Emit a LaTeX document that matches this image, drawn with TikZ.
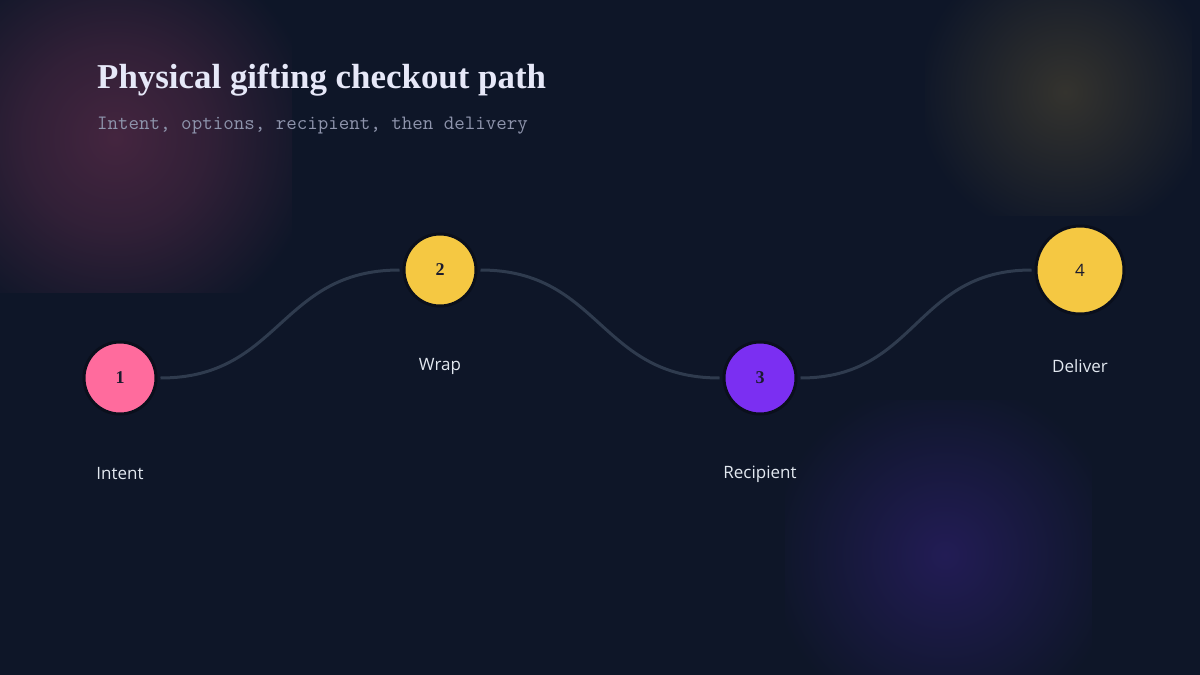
\documentclass[tikz,border=0pt]{standalone}
\usepackage{fontspec}
\setmainfont{Liberation Serif}
\newfontfamily\labelfont{Open Sans}
\usetikzlibrary{calc}
\definecolor{bg}{HTML}{0E1628}
\definecolor{glowpink}{HTML}{44253F}
\definecolor{glowyellow}{HTML}{34332E}
\definecolor{glowpurple}{HTML}{221C55}
\definecolor{titlec}{HTML}{E6E8F8}
\definecolor{subc}{HTML}{8E94AC}
\definecolor{linkc}{HTML}{2F3B4E}
\definecolor{ringc}{HTML}{0A0F1C}
\definecolor{pinkc}{HTML}{FF6B9D}
\definecolor{yellowc}{HTML}{F5C842}
\definecolor{purplec}{HTML}{7B2FF2}
\definecolor{numc}{HTML}{1B1B2E}
\definecolor{labc}{HTML}{E2E8F0}
\pgfdeclareradialshading{pinkglow}{\pgfpoint{0bp}{0bp}}{color(0bp)=(glowpink); color(9bp)=(glowpink!65!bg); color(20bp)=(bg); color(25bp)=(bg); color(50bp)=(bg)}
\pgfdeclareradialshading{yellowglow}{\pgfpoint{0bp}{0bp}}{color(0bp)=(glowyellow); color(8bp)=(glowyellow!60!bg); color(20bp)=(bg); color(25bp)=(bg); color(50bp)=(bg)}
\pgfdeclareradialshading{purpleglow}{\pgfpoint{0bp}{0bp}}{color(0bp)=(glowpurple); color(8bp)=(glowpurple!60!bg); color(20bp)=(bg); color(25bp)=(bg); color(50bp)=(bg)}
\tikzset{
  stepdot/.style={circle, draw=ringc, line width=3pt, minimum size=#1, inner sep=0pt, font=\fontsize{18}{20}\selectfont\bfseries, text=numc},
  steplabel/.style={font=\labelfont\fontsize{17}{20}\selectfont, text=labc},
  link/.style={draw=linkc, line width=3pt},
}
\begin{document}
\begin{tikzpicture}[x=1pt,y=-1pt]
\useasboundingbox (0,0) rectangle (1200,675);
\fill[bg] (0,0) rectangle (1200,675);
% glows
\begin{scope}
  \clip (0,0) rectangle (292,292);
  \shade[shading=pinkglow] (115,138) circle (255);
\end{scope}
\begin{scope}
  \clip (925,0) rectangle (1192,215);
  \shade[shading=yellowglow] (1065,92) circle (185);
\end{scope}
\begin{scope}
  \clip (785,400) rectangle (1092,675);
  \shade[shading=purpleglow] (945,555) circle (220);
\end{scope}
% titles
\node[anchor=base west, inner sep=0pt, text=titlec, font=\bfseries\fontsize{34.9}{38}\selectfont] (title) at (97,88) {Physical gifting checkout path};
\node[anchor=base west, inner sep=0pt, text=subc, font=\ttfamily\fontsize{20.4}{22}\selectfont] (sub) at (97,129) {Intent, options, recipient, then delivery};
% step circles
\node[stepdot=72pt, fill=pinkc] (c1) at (120,378) {1};
\node[stepdot=72pt, fill=yellowc] (c2) at (440,270) {2};
\node[stepdot=72pt, fill=purplec] (c3) at (760,378) {3};
\node[stepdot=88pt, fill=yellowc, font=\labelfont\fontsize{17}{20}\selectfont] (c4) at (1080,270) {4};
% links
\draw[link] ($(c1.east)+(3,0)$) .. controls ($(c1.east)+(123,0)$) and ($(c2.west)+(-123,0)$) .. ($(c2.west)+(-3,0)$);
\draw[link] ($(c2.east)+(3,0)$) .. controls ($(c2.east)+(123,0)$) and ($(c3.west)+(-123,0)$) .. ($(c3.west)+(-3,0)$);
\draw[link] ($(c3.east)+(3,0)$) .. controls ($(c3.east)+(120,0)$) and ($(c4.west)+(-120,0)$) .. ($(c4.west)+(-3,0)$);
% labels
\node[steplabel] (l1) at (120,474) {Intent};
\node[steplabel] (l2) at (440,366) {Wrap};
\node[steplabel] (l3) at (760,474) {Recipient};
\node[steplabel] (l4) at (1080,366) {Deliver};
\end{tikzpicture}
\end{document}
